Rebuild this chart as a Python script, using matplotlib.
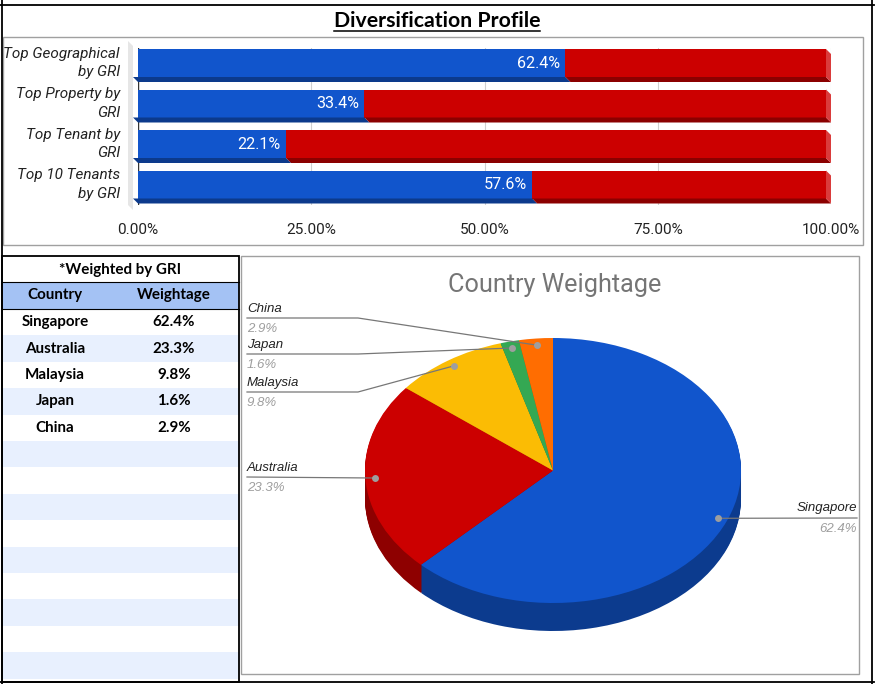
import matplotlib
matplotlib.use("Agg")
import matplotlib.pyplot as plt
from matplotlib.patches import Polygon, Rectangle
import numpy as np

plt.rcParams['font.family'] = ['Roboto', 'DejaVu Sans']

W, H = 877, 684

# bar chart data
bar_labels = ["Top Geographical\nby GRI", "Top Property by\nGRI",
              "Top Tenant by\nGRI", "Top 10 Tenants\nby GRI"]
bar_values = [62.4, 33.4, 22.1, 57.6]
tick_values = [0, 25, 50, 75, 100]
tick_labels = ["0.00%", "25.00%", "50.00%", "75.00%", "100.00%"]

# country weights (table + pie)
countries = ["Singapore", "Australia", "Malaysia", "Japan", "China"]
weights = [62.4, 23.3, 9.8, 1.6, 2.9]

pie_colors = ["#1155CC", "#CC0000", "#FBBC04", "#34A853", "#FF6D01"]
side_colors = ["#0C3B8E", "#8E0000", "#B08403", "#24753A", "#B34C01"]

BLUE, BLUE_DARK = "#1155CC", "#0C3A8C"
RED, RED_DARK, RED_SIDE = "#CC0000", "#8B0000", "#DA3B3B"


def box(x0, y0, x1, y1):
    """pixel box (top-left origin) -> figure fraction rect"""
    return [x0 / W, 1 - y1 / H, (x1 - x0) / W, (y1 - y0) / H]


fig = plt.figure(figsize=(W / 100, H / 100), dpi=100)
bg = fig.add_axes([0, 0, 1, 1])
bg.set_xlim(0, W)
bg.set_ylim(H, 0)
bg.axis('off')

# sheet borders
for xs, ys in [([0, 874], [4.5, 4.5]), ([2, 2], [0, H]),
               ([872, 872], [0, H]), ([0, 874], [682, 682])]:
    bg.plot(xs, ys, color='black', lw=1.3)

bg.add_patch(Rectangle((3, 37), 860, 208, fill=False, ec='#A0A0A0', lw=1))
bg.add_patch(Rectangle((241, 256), 618, 418, fill=False, ec='#A0A0A0', lw=1))

# title
title = bg.text(437, 21, "Diversification Profile", ha='center', va='center',
                fontsize=15.3, fontweight='bold', family='Lato', color='black')

# ---- table ----
row_h = 26.4
row_top = 309
for k in range(14):
    fc = '#FFFFFF' if k % 2 == 0 else '#E8F0FE'
    bg.add_patch(Rectangle((2, row_top + k * row_h), 237, row_h, fc=fc, ec='none'))
bg.add_patch(Rectangle((2, 282), 237, 27, fc='#A4C2F4', ec='none'))
bg.plot([2, 239], [282, 282], color='black', lw=0.8)
bg.plot([2, 239], [309, 309], color='black', lw=0.8)
bg.add_patch(Rectangle((2, 256), 237, 426, fill=False, ec='black', lw=1.3))

tkw = dict(ha='center', va='center', family='Lato', fontweight='bold',
           fontsize=10.9, color='black')
bg.text(120, 270, "*Weighted by GRI", **tkw)
bg.text(55, 295.5, "Country", **tkw)
bg.text(174, 295.5, "Weightage", **tkw)
for k, (c, w) in enumerate(zip(countries, weights)):
    y = row_top + (k + 0.5) * row_h
    bg.text(55, y, c, **tkw)
    bg.text(174, y, f"{w}%", **tkw)

# ---- bar chart ----
bax = fig.add_axes(box(138, 48, 831, 205))
c0, step = 63, 40.5
bax.set_xlim(0, 100)
bax.set_ylim((205 - c0) / step, (48 - c0) / step)
dx = 5 / 6.93
dy = 5 / step
h = 28 / step
ypos = np.arange(len(bar_values))
rest = [100 - v for v in bar_values]
bax.barh(ypos, bar_values, left=-dx, height=h, color=BLUE, zorder=3)
bax.barh(ypos, rest, left=np.array(bar_values) - dx, height=h, color=RED, zorder=3)

# left wall
bax.add_patch(Polygon([(-2 * dx, (41 - c0) / step), (-dx, (46 - c0) / step),
                       (-dx, (210 - c0) / step), (-2 * dx, (205 - c0) / step)],
                      fc='#E6E6E6', ec='none', zorder=1, clip_on=False))

for y, v in zip(ypos, bar_values):
    b = y + h / 2
    t = y - h / 2
    bax.add_patch(Polygon([(-dx, b), (v - dx, b), (v, b + dy), (0, b + dy)],
                          fc=BLUE_DARK, ec='none', zorder=3, clip_on=False))
    bax.add_patch(Polygon([(v - dx, b), (100 - dx, b), (100, b + dy), (v, b + dy)],
                          fc=RED_DARK, ec='none', zorder=3, clip_on=False))
    bax.add_patch(Polygon([(100 - dx, t), (100, t + dy), (100, b + dy), (100 - dx, b)],
                          fc=RED_SIDE, ec='none', zorder=3, clip_on=False))
    bax.text(v - dx - 0.8, y, f"{v}%", color='white', ha='right', va='center',
             fontsize=11.6, zorder=4)

bax.grid(axis='x', color='#D0D0D0', lw=0.8)
bax.set_axisbelow(True)
bax.axvline(0, color='#333333', lw=1, zorder=2)
for s in bax.spines.values():
    s.set_visible(False)
bax.set_facecolor('none')
bax.set_xticks(tick_values, tick_labels)
bax.set_yticks(ypos, bar_labels)
bax.tick_params(axis='x', length=0, pad=13, labelsize=11, labelcolor='#222222')
bax.tick_params(axis='y', length=0, pad=13, labelsize=11, labelcolor='#222222')
for lbl in bax.get_yticklabels():
    lbl.set_fontstyle('italic')
    lbl.set_linespacing(1.42)
    lbl.set_va('center')

# ---- pie ----
bg.text(555, 285, "Country Weightage", ha='center', va='center',
        fontsize=18.2, color='#757575')

pax = fig.add_axes(box(241, 256, 859, 674))
cx, cy, rx, ry = 553, 470.5, 188, 132.5
depth = 28
for d in np.linspace(depth, 1, 28):
    pax.pie(weights, colors=side_colors, startangle=90, counterclock=False,
            center=(0, -d / ry), radius=1)
wedges, _ = pax.pie(weights, colors=pie_colors, startangle=90, counterclock=False)
pax.set_xlim((241 - cx) / rx, (859 - cx) / rx)
pax.set_ylim((cy - 674) / ry, (cy - 256) / ry)
pax.set_aspect('auto')
pax.axis('off')


def X(px):
    return (px - cx) / rx


def Y(py):
    return (cy - py) / ry


# label side, text x, line y, bend x
label_layout = {
    "China": ('left', 247, 318, 358),
    "Japan": ('left', 247, 354, 358),
    "Malaysia": ('left', 247, 392, 358),
    "Australia": ('left', 247, 477, None),
    "Singapore": ('right', 857, 518, None),
}
for wdg, c, w in zip(wedges, countries, weights):
    mid = np.deg2rad((wdg.theta1 + wdg.theta2) / 2)
    dot = (0.95 * np.cos(mid), 0.95 * np.sin(mid))
    side, tx, ly, bend = label_layout[c]
    if side == 'left':
        pts = [(X(tx), Y(ly))]
        if bend is not None:
            pts.append((X(bend), Y(ly)))
        pts.append(dot)
    else:
        pts = [dot, (X(tx), Y(ly))]
    xs, ys = zip(*pts)
    pax.plot(xs, ys, color='#777777', lw=0.9, zorder=4, clip_on=False)
    pax.plot(*dot, 'o', color='#9E9E9E', ms=5, mec='none', zorder=5)
    pax.text(X(tx), Y(ly - 9.5), c, ha=side, va='center', fontsize=9.5,
             style='italic', family='Liberation Sans', color='#222222')
    pax.text(X(tx), Y(ly + 10.5), f"{w}%", ha=side, va='center', fontsize=9.5,
             style='italic', family='Liberation Sans', color='#9E9E9E')

# underline the title
fig.canvas.draw()
bb = title.get_window_extent()
(x0, _), (x1, _) = bg.transData.inverted().transform([[bb.x0, bb.y0], [bb.x1, bb.y1]])
bg.plot([x0, x1], [31, 31], color='black', lw=1.1)

fig.savefig("out.png", dpi=100)
